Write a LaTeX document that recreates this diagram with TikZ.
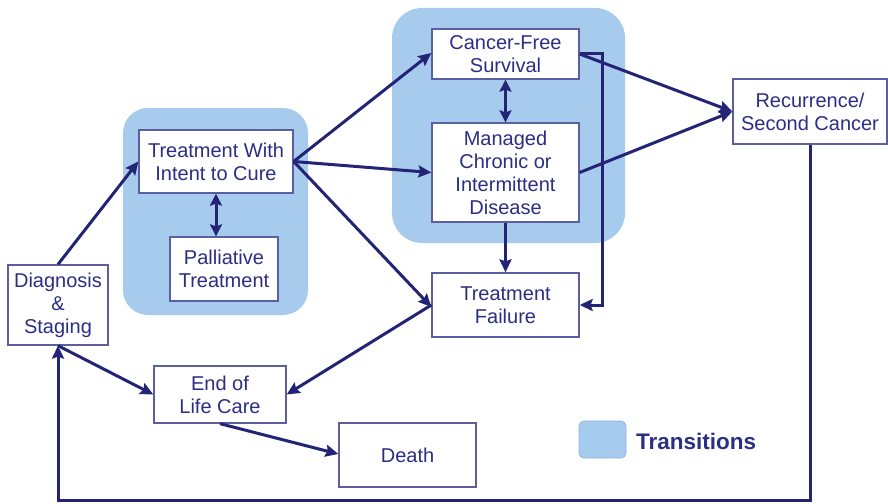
\documentclass[tikz,border=0pt]{standalone}
\usepackage{fontspec}
\setmainfont{Liberation Sans}
\usetikzlibrary{arrows.meta}

\definecolor{navytext}{RGB}{44,46,131}
\definecolor{navyline}{RGB}{36,36,118}
\definecolor{boxedge}{RGB}{92,94,162}
\definecolor{panelblue}{RGB}{166,203,236}
\definecolor{paneledge}{RGB}{140,182,226}

\tikzset{
  stagebox/.style={draw=boxedge, line width=1.3pt, fill=white, inner sep=0pt,
    align=center, text=navytext, font=\fontsize{20}{23}\selectfont},
  panel/.style={fill=panelblue, draw=none},
  flow/.style={draw=navyline, line width=3pt, line join=miter,
    -{Stealth[length=13pt,width=12pt,inset=2pt]}},
  twoway/.style={draw=navyline, line width=3pt,
    {Stealth[length=12pt,width=12pt,inset=2pt]}-{Stealth[length=12pt,width=12pt,inset=2pt]}},
  plain/.style={draw=navyline, line width=3pt, line join=miter},
}

\begin{document}
\begin{tikzpicture}[x=1pt,y=-1pt]
  \useasboundingbox (0,0) rectangle (888,503);

  % transition panels
  \fill[panel, rounded corners=25pt] (123,108) rectangle (308,315);
  \fill[panel, rounded corners=30pt] (392,8) rectangle (625,243);

  % stages
  \node[stagebox, minimum width=100pt, minimum height=80pt] (dg) at (58,305)
    {Diagnosis\\\&\\Staging};
  \node[stagebox, minimum width=154pt, minimum height=63pt] (tc) at (216,161.5)
    {Treatment With\\Intent to Cure};
  \node[stagebox, minimum width=108pt, minimum height=64pt] (pal) at (224,269)
    {Palliative\\Treatment};
  \node[stagebox, minimum width=147pt, minimum height=50pt] (cf) at (505.5,54)
    {Cancer-Free\\Survival};
  \node[stagebox, minimum width=147pt, minimum height=99pt] (mg) at (505.5,172.5)
    {Managed\\Chronic or\\Intermittent\\Disease};
  \node[stagebox, minimum width=154pt, minimum height=65pt] (rc) at (810,111.5)
    {Recurrence/\\Second Cancer};
  \node[stagebox, minimum width=147pt, minimum height=64pt] (tf) at (505.5,305)
    {Treatment\\Failure};
  \node[stagebox, minimum width=132pt, minimum height=57pt] (eol) at (220,394.5)
    {End of\\Life Care};
  \node[stagebox, minimum width=137pt, minimum height=64pt] (death) at (407.5,455)
    {Death};

  % legend
  \node[fill=panelblue, draw=paneledge, line width=0.8pt, rounded corners=5pt,
    minimum width=47pt, minimum height=37pt, inner sep=0pt] (key) at (602.5,439.5) {};
  \node[anchor=west, inner sep=0pt, text=navytext,
    font=\fontsize{22.5}{26}\selectfont\bfseries] (keytext) at (636,441) {Transitions};

  % connectors
  \draw[flow] (dg.north) -- (tc.west);
  \draw[twoway] (tc.south) -- (tc.south |- pal.north);
  \draw[flow] (tc.east) -- ([yshift=1pt]cf.west);
  \draw[flow] (tc.east) -- (mg.west);
  \draw[flow] (tc.east) -- ([yshift=-2pt]tf.west);
  \draw[twoway] (cf.south) -- (mg.north);
  \draw[flow] (cf.east) -- (rc.west);
  \draw[flow] (mg.east) -- (rc.west);
  \coordinate (elbow) at (602,0);
  \draw[flow] (cf.east) -- (cf.east -| elbow) -- (tf.east -| elbow) -- (tf.east);
  \draw[flow] (mg.south) -- (tf.north);
  \draw[flow] (tf.west) -- (eol.east);
  \draw[flow] (dg.south) -- (eol.west);
  \draw[flow] (eol.south) -- ([yshift=1pt]death.west);
  \coordinate (floor) at (0,500);
  \draw[flow] (rc.south) -- (rc.south |- floor) -- (dg.south |- floor) -- (dg.south);
\end{tikzpicture}
\end{document}
